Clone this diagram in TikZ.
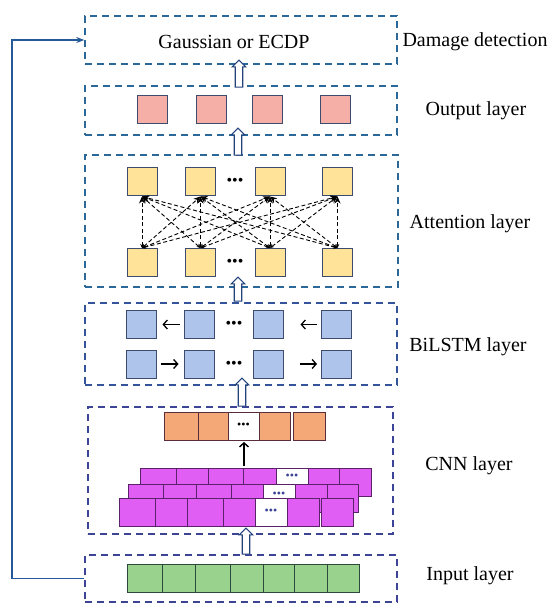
\documentclass[tikz,border=0pt]{standalone}
\usepackage{fontspec}
\setmainfont{Liberation Serif}
\usetikzlibrary{arrows.meta,shapes.arrows}

\definecolor{dmgblue}{HTML}{2A6899}
\definecolor{midblue}{HTML}{33549A}
\definecolor{lowblue}{HTML}{3D4497}
\definecolor{arrowblue}{HTML}{24427C}
\definecolor{loopblue}{HTML}{24599A}
\definecolor{outfill}{HTML}{F6AFA6}
\definecolor{attfill}{HTML}{FFE399}
\definecolor{bilfill}{HTML}{AFC4EA}
\definecolor{celledge}{HTML}{3D4C6E}
\definecolor{orfill}{HTML}{F4A877}
\definecolor{oredge}{HTML}{5A2D3A}
\definecolor{pufill}{HTML}{E15EF4}
\definecolor{puedge}{HTML}{5A2369}
\definecolor{grfill}{HTML}{98D28C}
\definecolor{gredge}{HTML}{2C4A3C}

\newcommand{\tdots}{•••}

\tikzset{
    layerbox/.style={draw=#1, line width=1.5pt, dash pattern=on 7pt off 5pt, inner sep=0pt},
    cell/.style 2 args={draw=#2, fill=#1, line width=1pt, inner sep=0pt, minimum width=30pt, minimum height=28pt},
    attlink/.style={dashed, dash pattern=on 4pt off 2.5pt, line width=0.9pt,
        {Stealth[length=4pt,width=3.5pt]}-{Stealth[length=7pt,width=6pt]}},
    bilink/.style={line width=1.3pt, -{Straight Barb[length=4pt,width=9pt]}},
    hollow/.style={single arrow, draw=arrowblue, fill=white, line width=1.1pt, shape border rotate=90,
        inner sep=3.2pt, single arrow head extend=3pt},
    loopline/.style={draw=loopblue, line width=1.3pt, -{Stealth[length=8pt,width=6pt]}},
    dotbig/.style={font=\fontsize{16}{16}\selectfont, inner sep=0pt},
    dotsmall/.style={font=\fontsize{12}{12}\selectfont, inner sep=0pt}
}

\begin{document}
\begin{tikzpicture}[x=1pt, y=-1pt, font=\fontsize{20}{24}\selectfont]
    \useasboundingbox (0,0) rectangle (550,612);

    % Dashed layer boxes
    \node[layerbox=dmgblue, minimum width=312pt, minimum height=48pt] (dmg) at (241,40) {};
    \node[layerbox=dmgblue, minimum width=312pt, minimum height=49pt] (outl) at (241,110.5) {};
    \node[layerbox=dmgblue, minimum width=313pt, minimum height=132pt] (att) at (241.5,221) {};
    \node[layerbox=midblue, minimum width=312pt, minimum height=82pt] (bil) at (241,344) {};
    \node[layerbox=lowblue, minimum width=305pt, minimum height=127pt] (cnn) at (240.5,470.5) {};
    \node[layerbox=lowblue, minimum width=312pt, minimum height=47pt] (inp) at (241,578.5) {};

    % Layer names
    \node (gauss) at (234,42) {Gaussian or ECDP};
    \node[anchor=west] (dmglab) at (399,42) {Damage detection};
    \node (outlab) at (476,111) {Output layer};
    \node (attlab) at (470,224) {Attention layer};
    \node (billab) at (468,347) {BiLSTM layer};
    \node (cnnlab) at (469,466) {CNN layer};
    \node (inplab) at (470,576) {Input layer};

    % Hollow arrows between layers
    \node[hollow, minimum height=27pt] (up1) at (239,75.5) {};
    \node[hollow, minimum height=27pt] (up2) at (238,143.5) {};
    \node[hollow, minimum height=24pt] (up3) at (238,291) {};
    \node[hollow, minimum height=28pt] (up4) at (242,394) {};
    \node[hollow, minimum height=26pt] (up5) at (246,543) {};

    % Feedback line from input to detection
    \draw[loopline] (inp.west) -- (12,578.5) |- (dmg.west);

    % Output layer
    \foreach \x [count=\i] in {152,211,267,335.5}
        \node[cell={outfill}{celledge}] (o\i) at (\x,110) {};

    % Attention layer
    \foreach \x [count=\i] in {142,200.5,270,337.5} {
        \node[cell={attfill}{celledge}] (at\i) at (\x,182) {};
        \node[cell={attfill}{celledge}] (ab\i) at (\x,262.5) {};
    }
    \node[dotbig] (attdt) at (235,182) {\tdots};
    \node[dotbig] (attdb) at (235,263) {\tdots};
    \foreach \i in {1,...,4}
        \foreach \j in {1,...,4}
            \draw[attlink] (ab\i.north) -- (at\j.south);

    % BiLSTM layer
    \foreach \x [count=\i] in {141,199,268,336.5} {
        \node[cell={bilfill}{celledge}] (lt\i) at (\x,324.5) {};
        \node[cell={bilfill}{celledge}] (lb\i) at (\x,364) {};
    }
    \node[dotbig] (bildt) at (234,325) {\tdots};
    \node[dotbig] (bildb) at (234,365) {\tdots};
    \draw[bilink, shorten <=4pt, shorten >=6pt] (lt2.west) -- (lt1.east);
    \draw[bilink, shorten <=4pt, shorten >=17pt] (lt4.west) -- (lt3.east);
    \draw[bilink, shorten <=4pt, shorten >=5pt] (lb1.east) -- (lb2.west);
    \draw[bilink, shorten <=16pt, shorten >=4pt] (lb3.east) -- (lb4.west);

    % CNN layer: feature maps (back to front)
    \foreach \a/\b/\c in {140/176/pufill,176/208/pufill,208/243/pufill,243/276/pufill,
                          276/308/white,308/339/pufill,339/371/pufill}
        \draw[draw=puedge, fill=\c, line width=1pt] (\a,468) rectangle (\b,496);
    \node[dotsmall, text=lowblue] (cnnd1) at (292,477) {\tdots};
    \foreach \a/\b/\c in {128/163/pufill,163/196/pufill,196/231/pufill,231/263/pufill,
                          263/295/white,295/327/pufill,327/358/pufill}
        \draw[draw=puedge, fill=\c, line width=1pt] (\a,484) rectangle (\b,512);
    \node[dotsmall, text=lowblue] (cnnd2) at (279,495) {\tdots};
    \foreach \a/\b/\c in {119/155/pufill,155/187/pufill,187/223/pufill,223/255/pufill,
                          255/287/white,287/319/pufill,321/353/pufill}
        \draw[draw=puedge, fill=\c, line width=1pt] (\a,498) rectangle (\b,526);
    \node[dotsmall, text=lowblue] (cnnd3) at (271,512) {\tdots};

    % CNN layer: pooled vector
    \foreach \a/\b/\c in {164/198/orfill,198/228/orfill,228/259/white,259/290/orfill,293/325/orfill}
        \draw[draw=oredge, fill=\c, line width=1pt] (\a,412) rectangle (\b,440);
    \node[dotsmall] (orddt) at (243.5,426) {\tdots};
    \coordinate (cnnin) at (244,466);
    \coordinate (cnnout) at (244,442);
    \draw[line width=1.4pt, -{Straight Barb[length=4pt,width=9pt]}] (cnnin) -- (cnnout);

    % Input layer
    \foreach \a/\b in {127/162,162/195,195/230,230/263,263/294,294/327,327/359}
        \draw[draw=gredge, fill=grfill, line width=1pt] (\a,564) rectangle (\b,592);

\end{tikzpicture}
\end{document}
